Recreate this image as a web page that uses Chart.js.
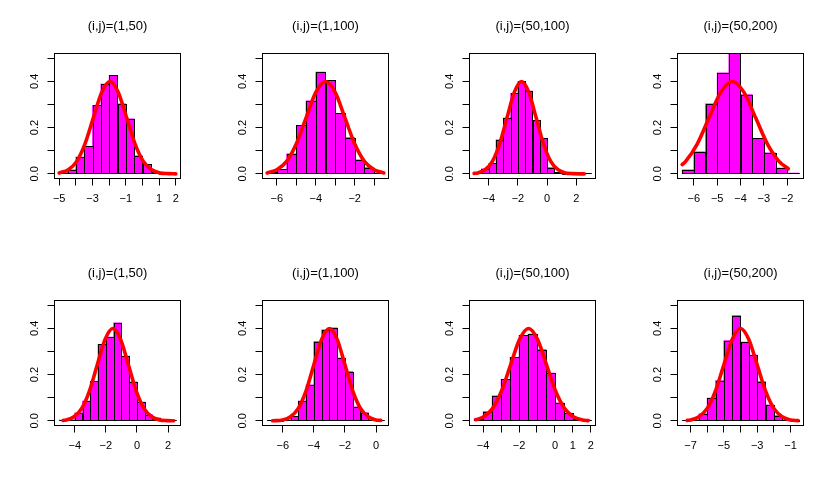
<!DOCTYPE html>
<html>
<head>
<meta charset="utf-8">
<script src="https://cdn.jsdelivr.net/npm/chart.js@4.4.1/dist/chart.umd.min.js"></script>
<style>
  body { margin: 0; background: #fff; }
  #quadro { position: relative; width: 830px; height: 493px; overflow: hidden; }
  #quadro canvas { position: absolute; }
</style>
</head>
<body>
<div id="quadro"></div>
<script>
// Títulos dos painéis (linha de cima e linha de baixo)
const titulos = ['(i,j)=(1,50)', '(i,j)=(1,100)', '(i,j)=(50,100)', '(i,j)=(50,200)',
                 '(i,j)=(1,50)', '(i,j)=(1,100)', '(i,j)=(50,100)', '(i,j)=(50,200)'];

// Eixo y (igual em todos)
const ticksY = [0, 0.1, 0.2, 0.3, 0.4, 0.5];
const rotulosY = ['0.0', '', '0.2', '', '0.4', ''];
const limiteY = [-0.02, 0.52];

// Limites do eixo x por painel
const limitesX = [[-5.28, 2.28], [-6.74, -0.26], [-5.32, 3.32], [-6.7, -1.3],
                  [-5.3, 2.8], [-7.3, 0.8], [-4.76, 2.26], [-7.78, -0.22]];

// Painel 1
const meios1 = [-4.75, -4.25, -3.75, -3.25, -2.75, -2.25, -1.75, -1.25, -0.75, -0.25, 0.25, 0.75, 1.25, 1.75];
const dens1 = [0.003, 0.017, 0.072, 0.119, 0.296, 0.388, 0.425, 0.303, 0.238, 0.078, 0.041, 0.006, 0, 0.002];
const curvaX1 = [-5, -4.45, -3.95, -3.45, -2.95, -2.45, -1.95, -1.45, -0.95, -0.45, 0.05, 0.55, 1.05, 1.55, 2];
const curvaY1 = [0.004, 0.018, 0.054, 0.130, 0.242, 0.352, 0.399, 0.352, 0.242, 0.130, 0.054, 0.018, 0.004, 0.001, 0.0001];
const ticksX1 = [-5, -4, -3, -2, -1, 0, 1, 2];
const rotulosX1 = ['\u22125', '', '\u22123', '', '\u22121', '', '1', '2'];

// Painel 2
const meios2 = [-6.25, -5.75, -5.25, -4.75, -4.25, -3.75, -3.25, -2.75, -2.25, -1.75, -1.25, -0.75];
const dens2 = [0.009, 0.019, 0.087, 0.209, 0.316, 0.44, 0.404, 0.261, 0.157, 0.061, 0.027, 0.004];
const curvaX2 = [-6.5, -6, -5.5, -5, -4.5, -4, -3.5, -3, -2.5, -2, -1.5, -1, -0.5];
const curvaY2 = [0.004, 0.018, 0.054, 0.130, 0.242, 0.352, 0.399, 0.352, 0.242, 0.130, 0.054, 0.018, 0.004];
const ticksX2 = [-6, -5, -4, -3, -2, -1];
const rotulosX2 = ['\u22126', '', '\u22124', '', '\u22122', ''];

// Painel 3
const meios3 = [-4.75, -4.25, -3.75, -3.25, -2.75, -2.25, -1.75, -1.25, -0.75, -0.25, 0.25, 0.75, 1.25, 1.75, 2.25, 2.75];
const dens3 = [0.002, 0.022, 0.045, 0.147, 0.241, 0.348, 0.40, 0.358, 0.231, 0.153, 0.027, 0.007, 0, 0, 0, 0.002];
const curvaX3 = [-5, -4.75, -4.25, -3.75, -3.25, -2.75, -2.25, -1.75, -1.25, -0.75, -0.25, 0.25, 0.75, 1.25, 1.75, 2.55];
const curvaY3 = [0.002, 0.004, 0.018, 0.054, 0.130, 0.242, 0.352, 0.399, 0.352, 0.242, 0.130, 0.054, 0.018, 0.004, 0.001, 0];
const ticksX3 = [-4, -2, 0, 2];
const rotulosX3 = ['\u22124', '\u22122', '0', '2'];

// Painel 4
const meios4 = [-6.25, -5.75, -5.25, -4.75, -4.25, -3.75, -3.25, -2.75, -2.25, -1.75];
const dens4 = [0.017, 0.095, 0.303, 0.437, 0.534, 0.342, 0.153, 0.091, 0.025, 0.003];
const curvaX4 = [-6.5, -6.35, -5.85, -5.35, -4.85, -4.35, -3.85, -3.35, -2.85, -2.35, -1.95];
const curvaY4 = [0.040, 0.054, 0.130, 0.242, 0.352, 0.399, 0.352, 0.242, 0.130, 0.054, 0.022];
const ticksX4 = [-6, -5, -4, -3, -2];
const rotulosX4 = ['\u22126', '\u22125', '\u22124', '\u22123', '\u22122'];

// Painel 5
const meios5 = [-4.75, -4.25, -3.75, -3.25, -2.75, -2.25, -1.75, -1.25, -0.75, -0.25, 0.25, 0.75, 1.25, 1.75, 2.25];
const dens5 = [0.003, 0.005, 0.035, 0.086, 0.171, 0.331, 0.362, 0.424, 0.28, 0.169, 0.081, 0.027, 0.013, 0.004, 0.003];
const curvaX5 = [-4.75, -4.55, -4.05, -3.55, -3.05, -2.55, -2.05, -1.55, -1.05, -0.55, -0.05, 0.45, 0.95, 1.45, 1.95, 2.35];
const curvaY5 = [0.002, 0.004, 0.018, 0.054, 0.130, 0.242, 0.352, 0.399, 0.352, 0.242, 0.130, 0.054, 0.018, 0.004, 0.001, 0.0002];
const ticksX5 = [-4, -2, 0, 2];
const rotulosX5 = ['\u22124', '\u22122', '0', '2'];

// Painel 6
const meios6 = [-6.75, -6.25, -5.75, -5.25, -4.75, -4.25, -3.75, -3.25, -2.75, -2.25, -1.75, -1.25, -0.75, -0.25, 0.25];
const dens6 = [0.002, 0, 0.003, 0.019, 0.086, 0.156, 0.342, 0.393, 0.402, 0.271, 0.213, 0.061, 0.036, 0.004, 0.002];
const curvaX6 = [-6.65, -6, -5.5, -5, -4.5, -4, -3.5, -3, -2.5, -2, -1.5, -1, -0.5, 0, 0.3];
const curvaY6 = [0.0005, 0.004, 0.018, 0.054, 0.130, 0.242, 0.352, 0.399, 0.352, 0.242, 0.130, 0.054, 0.018, 0.004, 0.002];
const ticksX6 = [-6, -4, -2, 0];
const rotulosX6 = ['\u22126', '\u22124', '\u22122', '0'];

// Painel 7
const meios7 = [-4.25, -3.75, -3.25, -2.75, -2.25, -1.75, -1.25, -0.75, -0.25, 0.25, 0.75, 1.25, 1.75];
const dens7 = [0.010, 0.040, 0.108, 0.179, 0.274, 0.369, 0.375, 0.308, 0.206, 0.078, 0.033, 0.007, 0.003];
const curvaX7 = [-4.4, -3.97, -3.47, -2.97, -2.47, -1.97, -1.47, -0.97, -0.47, 0.03, 0.53, 1.03, 1.53, 1.85];
const curvaY7 = [0.005, 0.018, 0.054, 0.130, 0.242, 0.352, 0.399, 0.352, 0.242, 0.130, 0.054, 0.018, 0.004, 0.001];
const ticksX7 = [-4, -3, -2, -1, 0, 1, 2];
const rotulosX7 = ['\u22124', '', '\u22122', '', '0', '1', '2'];

// Painel 8
const meios8 = [-7.25, -6.75, -6.25, -5.75, -5.25, -4.75, -4.25, -3.75, -3.25, -2.75, -2.25, -1.75, -1.25, -0.75];
const dens8 = [0.002, 0.004, 0.030, 0.098, 0.174, 0.347, 0.455, 0.340, 0.284, 0.170, 0.069, 0.023, 0.003, 0.001];
const curvaX8 = [-7.2, -7, -6.5, -6, -5.5, -5, -4.5, -4, -3.5, -3, -2.5, -2, -1.5, -1, -0.55];
const curvaY8 = [0.002, 0.004, 0.018, 0.054, 0.130, 0.242, 0.352, 0.399, 0.352, 0.242, 0.130, 0.054, 0.018, 0.004, 0.001];
const ticksX8 = [-7, -6, -5, -4, -3, -2, -1];
const rotulosX8 = ['\u22127', '', '\u22125', '', '\u22123', '', '\u22121'];

const paineis = [
    [meios1, dens1, curvaX1, curvaY1, ticksX1, rotulosX1],
    [meios2, dens2, curvaX2, curvaY2, ticksX2, rotulosX2],
    [meios3, dens3, curvaX3, curvaY3, ticksX3, rotulosX3],
    [meios4, dens4, curvaX4, curvaY4, ticksX4, rotulosX4],
    [meios5, dens5, curvaX5, curvaY5, ticksX5, rotulosX5],
    [meios6, dens6, curvaX6, curvaY6, ticksX6, rotulosX6],
    [meios7, dens7, curvaX7, curvaY7, ticksX7, rotulosX7],
    [meios8, dens8, curvaX8, curvaY8, ticksX8, rotulosX8],
];

Chart.defaults.font.family = "'Liberation Sans', Arial, Helvetica, sans-serif";
Chart.defaults.font.size = 11;
Chart.defaults.color = '#000';

// Contorno preto das barras do histograma (como o R faz com rect)
const contornoHist = {
    id: 'contornoHist',
    afterDatasetDraw(chart, args) {
        if (args.meta.type !== 'bar') return;
        const a = chart.chartArea;
        const ctx = chart.ctx;
        ctx.save();
        ctx.beginPath();
        ctx.rect(a.left, a.top, a.right - a.left, a.bottom - a.top);
        ctx.clip();
        ctx.strokeStyle = '#000';
        ctx.lineWidth = 1;
        args.meta.data.forEach(el => {
            const p = el.getProps(['x', 'y', 'base', 'width'], true);
            const x0 = Math.round(p.x - p.width / 2) + 0.5;
            const x1 = Math.round(p.x + p.width / 2) + 0.5;
            const y0 = Math.round(p.y) + 0.5;
            const y1 = Math.round(p.base) + 0.5;
            ctx.strokeRect(x0, y0, x1 - x0, y1 - y0);
        });
        ctx.restore();
    }
};

// Caixa em volta da área do gráfico
const caixa = {
    id: 'caixa',
    afterDraw(chart) {
        const a = chart.chartArea;
        const ctx = chart.ctx;
        ctx.save();
        ctx.strokeStyle = '#000';
        ctx.lineWidth = 1;
        ctx.strokeRect(a.left, a.top, a.right - a.left, a.bottom - a.top);
        ctx.restore();
    }
};

// Função para criar um painel (histograma + curva)
function criarGrafico(canvas, i) {
    const [meios, dens, curvaX, curvaY, ticksX, rotulosX] = paineis[i];
    new Chart(canvas, {
        type: 'bar',
        data: {
            datasets: [
                {
                    type: 'line',
                    data: curvaX.map((x, k) => ({ x: x, y: curvaY[k] })),
                    borderColor: '#ff0000',
                    borderWidth: 3.6,
                    borderCapStyle: 'round',
                    borderJoinStyle: 'round',
                    pointRadius: 0,
                    cubicInterpolationMode: 'monotone',
                    fill: false,
                },
                {
                    type: 'bar',
                    data: meios.map((x, k) => ({ x: x, y: dens[k] })),
                    backgroundColor: '#ff00ff',
                    borderWidth: 0,
                    barPercentage: 1,
                    categoryPercentage: 1,
                },
            ],
        },
        options: {
            responsive: false,
            animation: false,
            events: [],
            layout: { padding: { left: 0, top: 0, right: 26.5, bottom: 27.5 } },
            plugins: {
                legend: { display: false },
                tooltip: { enabled: false },
                title: {
                    display: true,
                    text: titulos[i],
                    fullSize: false,
                    color: '#000',
                    font: { size: 13, weight: 'normal' },
                    padding: { top: 18.5, bottom: 19.4 },
                },
            },
            scales: {
                x: {
                    type: 'linear',
                    offset: false,
                    min: limitesX[i][0],
                    max: limitesX[i][1],
                    afterBuildTicks: s => { s.ticks = ticksX.map(v => ({ value: v })); },
                    afterFit: s => { s.height = 40; },
                    ticks: {
                        autoSkip: false,
                        maxRotation: 0,
                        minRotation: 0,
                        padding: 6.7,
                        color: '#000',
                        callback: (v, k) => rotulosX[k],
                    },
                    grid: { offset: false, drawOnChartArea: false, tickLength: 7, color: '#000' },
                    border: { display: false },
                },
                y: {
                    type: 'linear',
                    min: limiteY[0],
                    max: limiteY[1],
                    afterBuildTicks: s => { s.ticks = ticksY.map(v => ({ value: v })); },
                    afterFit: s => { s.width = 54.5; },
                    ticks: {
                        autoSkip: false,
                        minRotation: 90,
                        maxRotation: 90,
                        crossAlign: 'center',
                        padding: 4.4,
                        color: '#000',
                        callback: (v, k) => rotulosY[k],
                    },
                    grid: { drawOnChartArea: false, tickLength: 7, color: '#000' },
                    border: { display: false },
                },
            },
        },
        plugins: [contornoHist, caixa],
    });
}

// Montar a grade 2 x 4
const quadro = document.getElementById('quadro');
const esquerdas = [0, 208, 415, 623];
const topos = [0, 247];
for (let i = 0; i < 8; i++) {
    const canvas = document.createElement('canvas');
    canvas.width = 207;
    canvas.height = 246;
    canvas.style.left = esquerdas[i % 4] + 'px';
    canvas.style.top = topos[Math.floor(i / 4)] + 'px';
    quadro.appendChild(canvas);
    criarGrafico(canvas, i);
}
</script>
</body>
</html>
